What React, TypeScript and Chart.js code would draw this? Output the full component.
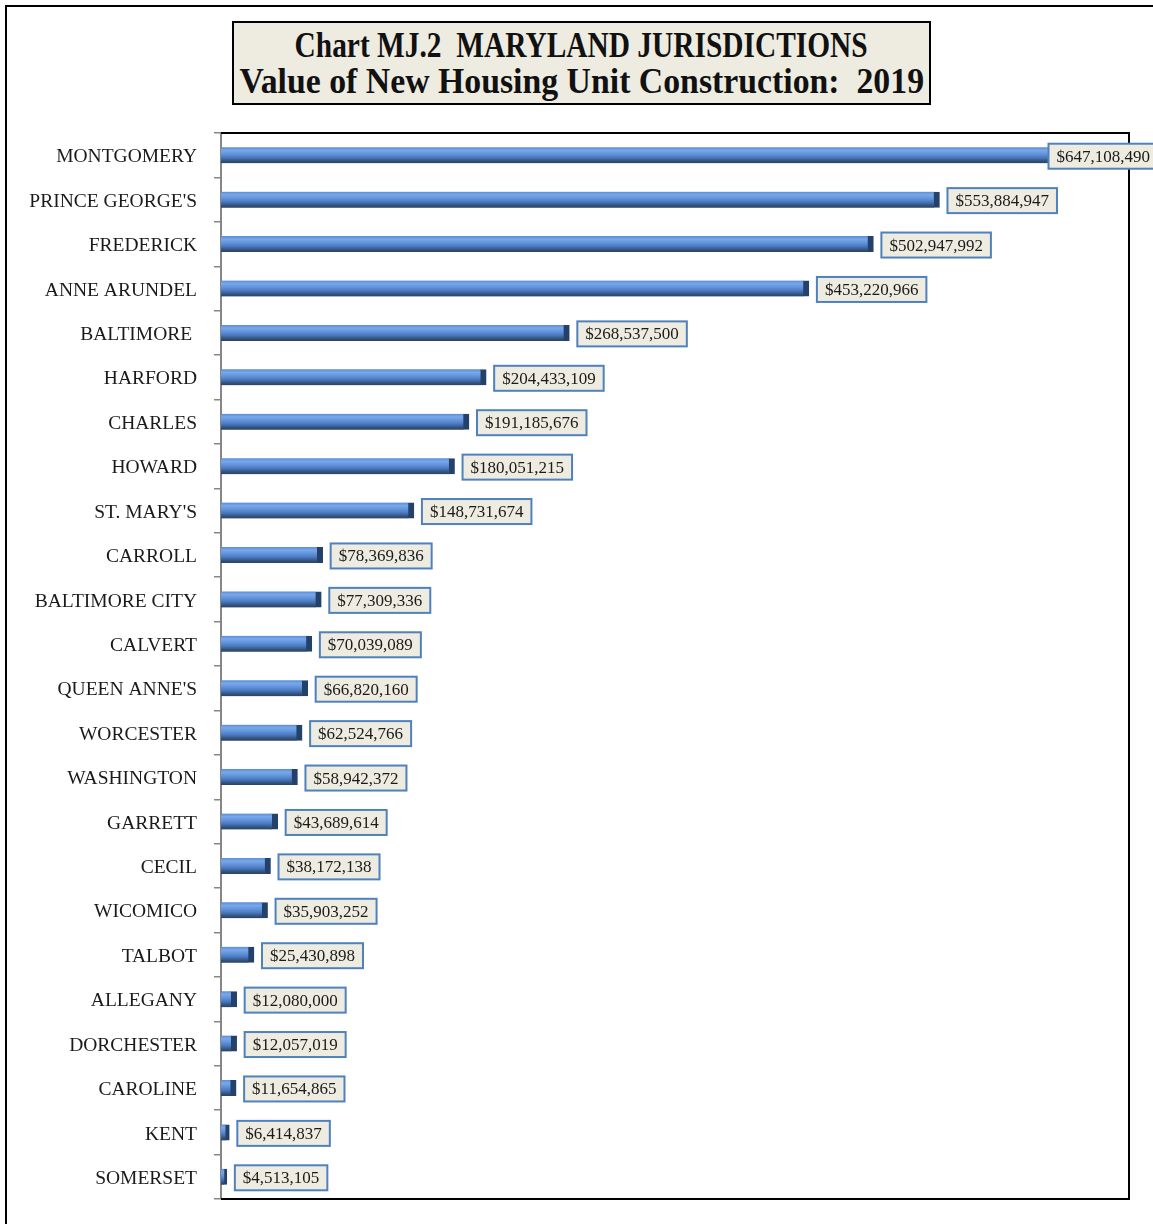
import React, { useEffect, useRef } from "react";
import { Chart, registerables } from "chart.js";

Chart.register(...registerables);

const categories: string[] = [
  "MONTGOMERY",
  "PRINCE GEORGE'S",
  "FREDERICK",
  "ANNE ARUNDEL",
  "BALTIMORE ",
  "HARFORD",
  "CHARLES",
  "HOWARD",
  "ST. MARY'S",
  "CARROLL",
  "BALTIMORE CITY",
  "CALVERT",
  "QUEEN ANNE'S",
  "WORCESTER",
  "WASHINGTON",
  "GARRETT",
  "CECIL",
  "WICOMICO",
  "TALBOT",
  "ALLEGANY",
  "DORCHESTER",
  "CAROLINE",
  "KENT",
  "SOMERSET",
];

const values: number[] = [
  647108490, 553884947, 502947992, 453220966, 268537500, 204433109, 191185676,
  180051215, 148731674, 78369836, 77309336, 70039089, 66820160, 62524766,
  58942372, 43689614, 38172138, 35903252, 25430898, 12080000, 12057019,
  11654865, 6414837, 4513105,
];

const axisMin = 0;
const axisMax = 700000000;

const titleLines: string[] = [
  "Chart MJ.2  MARYLAND JURISDICTIONS",
  "Value of New Housing Unit Construction:  2019",
];

const W = 1153;
const H = 1224;

const plotBorder = {
  id: "plotBorder",
  beforeDatasetsDraw(chart: any) {
    const { ctx, chartArea } = chart;
    ctx.save();
    ctx.strokeStyle = "#000000";
    ctx.lineWidth = 2;
    ctx.beginPath();
    ctx.moveTo(chartArea.left, chartArea.top);
    ctx.lineTo(chartArea.right, chartArea.top);
    ctx.lineTo(chartArea.right, chartArea.bottom);
    ctx.lineTo(chartArea.left, chartArea.bottom);
    ctx.stroke();
    ctx.restore();
  },
};

const valueLabels = {
  id: "valueLabels",
  afterDatasetsDraw(chart: any) {
    const { ctx } = chart;
    const meta = chart.getDatasetMeta(0);
    ctx.save();
    ctx.font = '17px "Liberation Serif"';
    meta.data.forEach((bar: any, i: number) => {
      const text = "$" + values[i].toLocaleString("en-US");
      const tw = ctx.measureText(text).width;
      const w = tw + 16;
      const h = 25;
      const bx = Math.min(bar.x + 8, W + 5 - w);
      const by = bar.y - h / 2 + 1;
      ctx.fillStyle = "#eeece1";
      ctx.fillRect(bx, by, w, h);
      ctx.strokeStyle = "#4f81bd";
      ctx.lineWidth = 2;
      ctx.strokeRect(bx, by, w, h);
      ctx.fillStyle = "#1a1a1a";
      ctx.textAlign = "left";
      ctx.textBaseline = "middle";
      ctx.fillText(text, bx + 8, bar.y + 2);
    });
    ctx.restore();
  },
};

const titleScale: number[] = [0.84, 0.965];

export default function App() {
  const ref = useRef<HTMLCanvasElement | null>(null);

  useEffect(() => {
    if (!ref.current) return;
    const chart = new Chart(ref.current, {
      type: "bar",
      data: {
        labels: categories,
        datasets: [
          {
            data: values,
            barThickness: 16,
            borderWidth: { right: 6, left: 0, top: 0, bottom: 0 } as any,
            borderColor: "#24416b",
            borderSkipped: false,
            backgroundColor: (c: any) => {
              const chart = c.chart;
              const ys = chart.scales && chart.scales.y;
              if (!ys || c.dataIndex === undefined) return "#4f81bd";
              const cy = ys.getPixelForValue(c.dataIndex);
              if (!Number.isFinite(cy)) return "#4f81bd";
              const g = chart.ctx.createLinearGradient(0, cy - 8, 0, cy + 8);
              g.addColorStop(0, "#5a8dd4");
              g.addColorStop(0.2, "#79a8ea");
              g.addColorStop(0.45, "#5f90d8");
              g.addColorStop(0.65, "#4a78bd");
              g.addColorStop(0.85, "#33547f");
              g.addColorStop(1, "#2a4266");
              return g;
            },
          },
        ],
      },
      options: {
        indexAxis: "y",
        responsive: false,
        animation: false,
        layout: { padding: { left: 0, right: 24, top: 133, bottom: 25 } },
        plugins: {
          legend: { display: false },
          tooltip: { enabled: false },
          title: { display: false },
        },
        scales: {
          x: {
            display: false,
            min: axisMin,
            max: axisMax,
          },
          y: {
            type: "category",
            offset: true,
            grid: {
              display: true,
              offset: true,
              drawOnChartArea: false,
              drawTicks: true,
              tickLength: 7,
              color: "#868686",
              lineWidth: 1.5,
            },
            border: { display: true, color: "#868686", width: 2 },
            ticks: {
              font: { family: '"Liberation Serif"', size: 19.5 },
              color: "#1a1a1a",
              padding: 17,
              autoSkip: false,
              labelOffset: 2,
            },
            afterFit: (s: any) => {
              s.width = 221;
              s.paddingTop = 0;
              s.paddingBottom = 0;
            },
          },
        },
      },
      plugins: [plotBorder, valueLabels],
    });
    return () => chart.destroy();
  }, []);

  return (
    <div
      style={{
        position: "absolute",
        left: 0,
        top: 0,
        width: W,
        height: H,
        overflow: "hidden",
        background: "#ffffff",
      }}
    >
      <div
        style={{
          position: "absolute",
          left: 5,
          top: 5,
          width: W + 20,
          height: H + 20,
          border: "2px solid #000",
          boxSizing: "border-box",
        }}
      />
      <canvas
        ref={ref}
        width={W}
        height={H}
        style={{ position: "absolute", left: 0, top: 0, width: W, height: H }}
      />
      <div
        style={{
          position: "absolute",
          left: 232,
          top: 21,
          width: 699,
          height: 84,
          boxSizing: "border-box",
          border: "2px solid #000",
          background: "#eeece1",
          fontFamily: '"Liberation Serif", serif',
          fontWeight: "bold",
          fontSize: 35,
          lineHeight: "36px",
          paddingTop: 5,
          color: "#111",
          whiteSpace: "pre",
        }}
      >
        {titleLines.map((t, i) => (
          <div
            key={i}
            style={{
              height: 36,
              display: "flex",
              justifyContent: "center",
            }}
          >
            <span
              style={{
                display: "inline-block",
                flex: "none",
                transform: `scaleX(${titleScale[i]})`,
                transformOrigin: "center",
              }}
            >
              {t}
            </span>
          </div>
        ))}
      </div>
    </div>
  );
}
